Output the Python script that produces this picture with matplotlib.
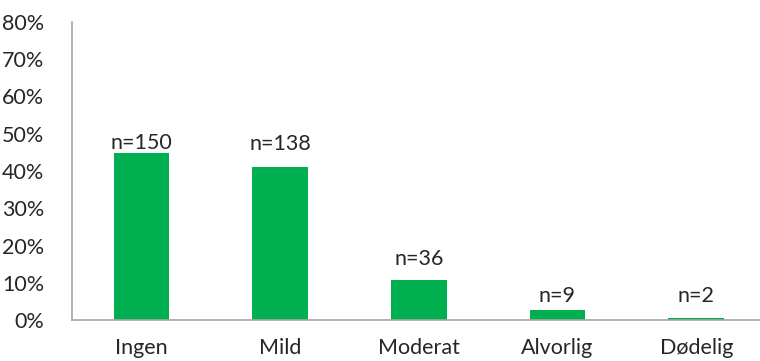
import matplotlib
matplotlib.use("Agg")
import matplotlib.pyplot as plt
from matplotlib.ticker import PercentFormatter

# severity categories, share of patients, counts and where the count labels sit
categories = ["Ingen", "Mild", "Moderat", "Alvorlig", "Dødelig"]
shares = [44.8, 41.2, 10.7, 2.7, 0.6]
counts = [150, 138, 36, 9, 2]
label_y = [45.9, 45.6, 14.8, 4.8, 4.8]
yticks = [0, 10, 20, 30, 40, 50, 60, 70, 80]

plt.rcParams["font.family"] = ["Lato", "DejaVu Sans"]

fig = plt.figure(figsize=(7.6, 3.61), dpi=100)
ax = fig.add_axes([72 / 760, 41 / 361, 688 / 760, 298 / 361])

x = range(len(categories))
bars = ax.bar(x, shares, width=0.4, color="#00B050")

for b, n, ly in zip(bars, counts, label_y):
    ax.text(b.get_x() + b.get_width() / 2, ly, f"n={n}",
            ha="center", va="baseline", fontsize=15.5, color="#262626")

ax.set_xlim(-0.5, 4.46)
ax.set_ylim(0, 80)
ax.set_yticks(yticks)
ax.yaxis.set_major_formatter(PercentFormatter(decimals=0))
ax.set_xticks(list(x))
ax.set_xticklabels(categories)

ax.tick_params(axis="both", length=0, labelsize=15.5, colors="#262626")
ax.tick_params(axis="x", pad=13)
ax.tick_params(axis="y", pad=20)
for side in ("top", "right"):
    ax.spines[side].set_visible(False)
for side in ("left", "bottom"):
    ax.spines[side].set_color("#A6A6A6")
    ax.spines[side].set_linewidth(1.2)

fig.savefig("out.png", dpi=100)
